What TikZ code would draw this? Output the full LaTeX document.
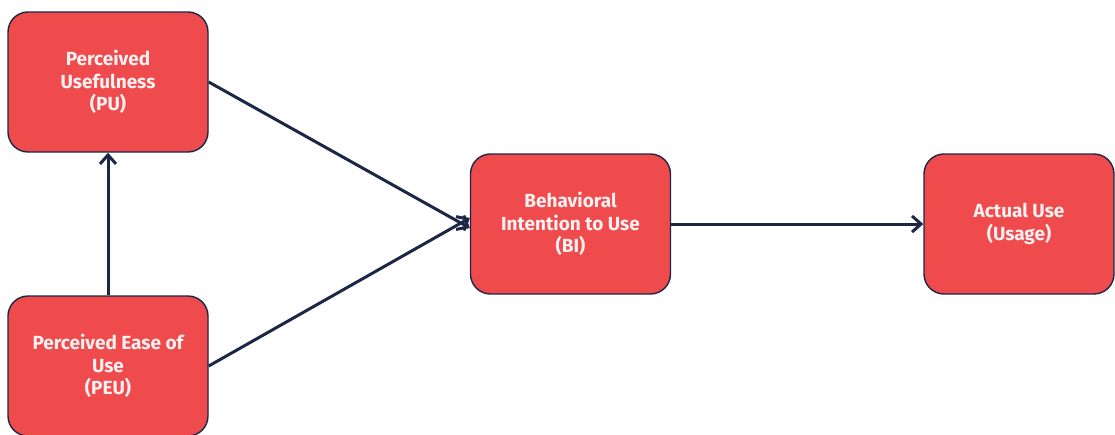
\documentclass[tikz,border=0pt]{standalone}
\usepackage{fontspec}
\setsansfont{Fira Sans}
\usetikzlibrary{arrows.meta}
\definecolor{boxred}{HTML}{EF4A4C}
\definecolor{navy}{HTML}{1C2746}
\definecolor{boxtext}{HTML}{FDF0F0}
\begin{document}
\begin{tikzpicture}[x=1pt,y=-1pt,
  model/.style={draw=navy, line width=1.4pt, fill=boxred, rounded corners=20pt,
    minimum width=200pt, minimum height=140pt, inner sep=0pt, align=center,
    text=boxtext, font=\sffamily\fontseries{sb}\selectfont\fontsize{19}{22.7}\selectfont},
  link/.style={draw=navy, line width=3pt, -{Straight Barb[length=9pt,width=16pt,line width=3pt]}}]
  \useasboundingbox (0,0) rectangle (1115,434);
  \node[model] (pu)  at (108,82)  {Perceived\\Usefulness\\(PU)};
  \node[model] (peu) at (108,366) {Perceived Ease of\\Use\\(PEU)};
  \node[model] (bi)  at (570.5,224) {Behavioral\\Intention to Use\\(BI)};
  \node[model, minimum width=190pt] (au) at (1019,224) {Actual Use\\(Usage)};
  \draw[link] (pu.east) -- ([yshift=-4pt]bi.west);
  \draw[link] (peu.east) -- ([yshift=6pt]bi.west);
  \draw[link] (peu.north) -- (pu.south);
  \draw[link] (bi.east) -- (au.west);
\end{tikzpicture}
\end{document}
